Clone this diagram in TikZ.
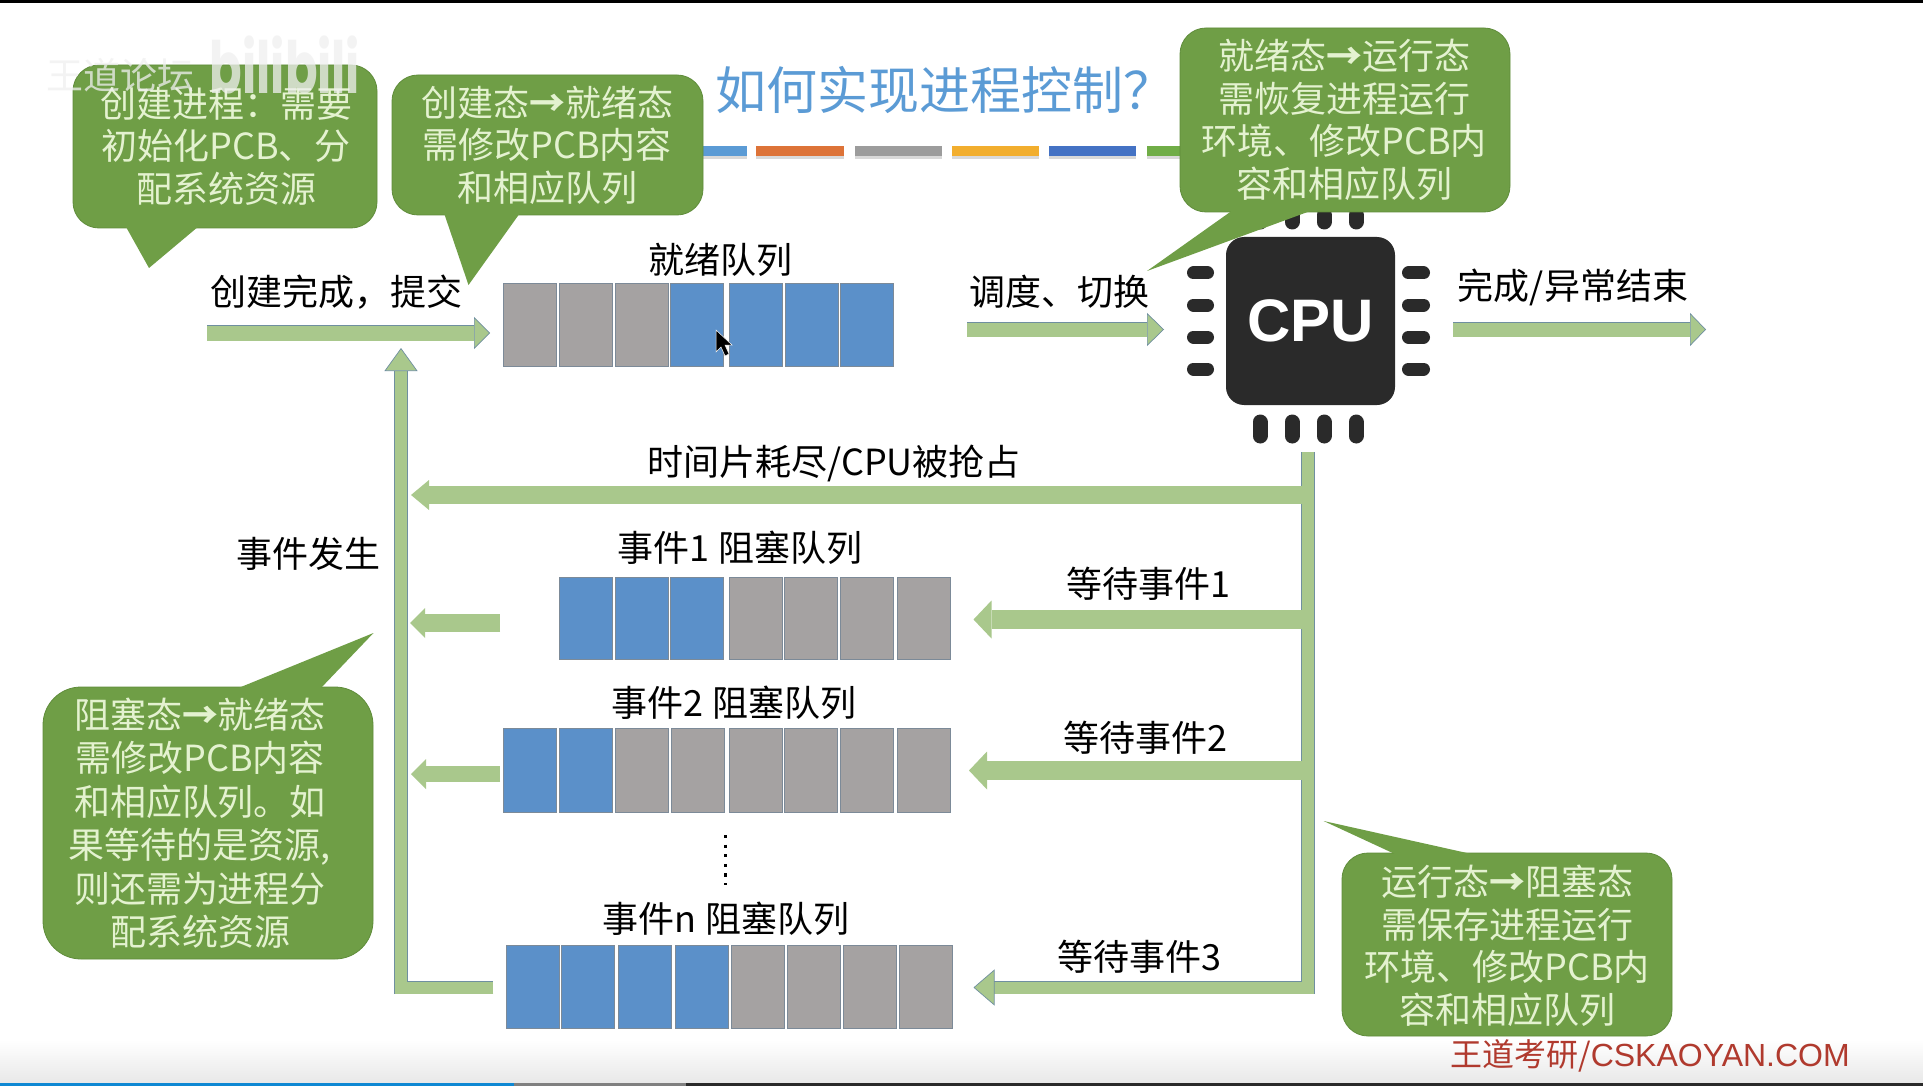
\documentclass[tikz,border=0pt]{standalone}
\usepackage{fontspec}
\setmainfont{Noto Sans CJK SC}
\newfontfamily\cpufont{Liberation Sans}
\newfontfamily\logofont{Poppins}
\usetikzlibrary{arrows.meta}
\definecolor{flowfill}{HTML}{A9C88C}
\definecolor{flowedge}{HTML}{6F8FA0}
\definecolor{bubblefill}{HTML}{6F9E46}
\definecolor{bubbleedge}{HTML}{5F8C3A}
\definecolor{bubbletxt}{HTML}{E4F2D0}
\definecolor{cellgray}{HTML}{A5A2A2}
\definecolor{cellblue}{HTML}{5B90C9}
\definecolor{celledge}{HTML}{7C8A98}
\definecolor{chipdark}{HTML}{2A2A2A}
\definecolor{titleblue}{HTML}{5B9BD5}
\definecolor{footred}{HTML}{B03A2E}
\definecolor{barblue}{HTML}{5B9BD5}
\definecolor{barorange}{HTML}{DD7338}
\definecolor{bargray}{HTML}{9C9C9C}
\definecolor{baryellow}{HTML}{F2AE2E}
\definecolor{barnavy}{HTML}{4472C4}
\definecolor{bargreen}{HTML}{70AD47}
\tikzset{
	flow/.style n args={3}{draw=flowedge,double=flowfill,line width=.7pt,double distance=#1,line join=miter,-{Triangle[length=#2,width=#3,fill=flowfill,color=flowedge,line width=.7pt]}},
	plainflow/.style n args={3}{draw=flowfill,line width=#1,-{Triangle[length=#2,width=#3,fill=flowfill,color=flowfill,line width=0pt]}},
	cell/.style={draw=celledge,line width=.6pt,minimum width=53pt,minimum height=#1,inner sep=0pt},
	bubble/.style={fill=bubblefill,draw=bubbleedge,line width=.8pt,rounded corners=26pt,inner sep=0pt},
	bubbletext/.style={text=bubbletxt,align=center,inner sep=0pt,font=\fontsize{36}{42.5}\selectfont},
	tail/.style={fill=bubblefill},
	lbl/.style={text=black,inner sep=0pt,font=\fontsize{36}{42}\selectfont},
	cpupin/.style={draw=chipdark,line cap=round,line width=#1},
}
\newcommand{\toarrow}{{\bfseries →}}
\newcommand{\widecomma}{\char"FF0C\relax}
\newcommand{\widecolon}{\char"FF1A\relax}
\newcommand{\widequery}{\char"FF1F\relax}
\begin{document}
\begin{tikzpicture}[x=1pt,y=-1pt]
	\useasboundingbox (0,0) rectangle (1923,1086);
	\fill[white] (0,0) rectangle (1923,1086);
	\shade[top color=white,bottom color=black!9] (0,1040) rectangle (1923,1083);
	\fill[black] (0,0) rectangle (1923,3);
	\fill[chipdark] (0,1083) rectangle (1923,1086);
	\fill[gray] (514,1083) rectangle (686,1086);
	\fill[cyan!70!blue] (0,1083) rectangle (514,1086);

	\node[text=titleblue,inner sep=0pt,font=\fontsize{51}{60}\selectfont] (title) at (945,90) {如何实现进程控制\widequery};
	\foreach \xa/\xb/\c in {660/747/barblue,756/844/barorange,855/942/bargray,952/1039/baryellow,1049/1136/barnavy,1147/1200/bargreen}{
		\fill[black!15] (\xa,149) rectangle (\xb,159);
		\fill[\c] (\xa,146) rectangle (\xb,156);
	}

	\foreach \x/\c [count=\i] in {530/cellgray,585.5/cellgray,642/cellgray,697/cellblue,755.5/cellblue,811.5/cellblue,867/cellblue}
	\node[cell=83pt,fill=\c] (ready\i) at (\x,324.5) {};
	\foreach \x/\c [count=\i] in {585.5/cellblue,641.5/cellblue,697/cellblue,755.5/cellgray,811/cellgray,866.5/cellgray,923.5/cellgray}
	\node[cell=82pt,fill=\c] (evta\i) at (\x,618) {};
	\foreach \x/\c [count=\i] in {530/cellblue,585.5/cellblue,642/cellgray,697.5/cellgray,755.5/cellgray,811/cellgray,866.5/cellgray,923.5/cellgray}
	\node[cell=84pt,fill=\c] (evtb\i) at (\x,770) {};
	\foreach \x/\c [count=\i] in {532.5/cellblue,588/cellblue,644.5/cellblue,701.5/cellblue,757.5/cellgray,813.5/cellgray,870/cellgray,926/cellgray}
	\node[cell=83pt,fill=\c] (evtn\i) at (\x,986.5) {};
	\fill[black,draw=white,line width=.5pt] (716,330) -- (716,352) -- (721,347) -- (725,356) -- (729,354) -- (725,345) -- (732,345) -- cycle;

	\node[lbl] (readylbl) at (720,260) {就绪队列};
	\node[lbl] (createlbl) at (336,292) {创建完成\widecomma 提交};
	\node[lbl] (schedlbl) at (1059,292) {调度、切换};
	\node[lbl] (finishlbl) at (1573,287) {完成/异常结束};
	\node[lbl] (slicelbl) at (834,463) {时间片耗尽/CPU被抢占};
	\node[lbl] (occurlbl) at (308,554) {事件发生};
	\node[lbl] (evtalbl) at (740,548) {事件1 阻塞队列};
	\node[lbl] (evtblbl) at (734,703) {事件2 阻塞队列};
	\node[lbl] (evtnlbl) at (726,919) {事件n 阻塞队列};
	\node[lbl] (waitalbl) at (1148,584) {等待事件1};
	\node[lbl] (waitblbl) at (1145.5,738) {等待事件2};
	\node[lbl] (waitnlbl) at (1139,957) {等待事件3};
	\coordinate (dotstop) at (725.6,835);
	\coordinate (dotsbot) at (725.6,885);
	\draw[line width=3.2pt,dash pattern=on 3.2pt off 6.4pt] (dotstop) -- (dotsbot);

	\coordinate (newstart) at (207,333);
	\coordinate (newend) at (490,333);
	\coordinate (schedstart) at (967,329.5);
	\coordinate (schedend) at (1164,329.5);
	\coordinate (endstart) at (1453,329.5);
	\coordinate (endend) at (1706,329.5);
	\coordinate (trunktop) at (1308,452);
	\coordinate (trunkbot) at (1308,987.5);
	\coordinate (waitnend) at (973.5,987.5);
	\coordinate (wakebot) at (493,987.5);
	\coordinate (wakecorner) at (401,987.5);
	\coordinate (waketop) at (401,348);
	\draw[flow={15pt}{16pt}{32pt}] (newstart) -- (newend);
	\draw[flow={14pt}{17pt}{33pt}] (schedstart) -- (schedend);
	\draw[flow={14pt}{16pt}{33pt}] (endstart) -- (endend);
	\draw[flow={12pt}{23pt}{33pt}] (wakebot) -- (wakecorner) -- (waketop);
	\draw[flow={12pt}{21pt}{36pt}] (trunktop) -- (trunkbot) -- (waitnend);
	\draw[plainflow={18pt}{18pt}{30pt}] (1303,495) -- (411,495);
	\draw[plainflow={19pt}{18pt}{38pt}] (1303,619.5) -- (973.5,619.5);
	\draw[plainflow={19pt}{18pt}{38pt}] (1303,770.5) -- (969,770.5);
	\draw[plainflow={18pt}{15pt}{30pt}] (500,623) -- (410,623);
	\draw[plainflow={16pt}{15pt}{30pt}] (500,774) -- (411,774);

	\foreach \x in {1260,1292,1324,1356}{
		\draw[cpupin=15pt] (\x,215) -- (\x,222);
		\draw[cpupin=15pt] (\x,422) -- (\x,436);
	}
	\foreach \y in {273,305,337,369}{
		\draw[cpupin=13pt] (1193.5,\y) -- (1207.5,\y);
		\draw[cpupin=13pt] (1408.5,\y) -- (1423.5,\y);
	}
	\node[fill=chipdark,rounded corners=18pt,minimum width=169pt,minimum height=168pt,inner sep=0pt,text=white,font=\cpufont\bfseries\fontsize{60}{60}\selectfont] (cpu) at (1310.5,321) {CPU};

	\node[bubble,minimum width=304pt,minimum height=163pt] (createbody) at (225,146.5) {};
	\fill[tail] (125.5,226) -- (149,268) -- (199,226) -- cycle;
	\node[bubbletext] (createtext) at (226,146) {创建进程\widecolon 需要\\初始化PCB、分\\配系统资源};

	\node[bubble,minimum width=311pt,minimum height=140pt] (readybody) at (547.5,145) {};
	\fill[tail] (444,213) -- (468.5,285) -- (520,213) -- cycle;
	\node[bubbletext] (readytext) at (547,145) {创建态\toarrow 就绪态\\需修改PCB内容\\和相应队列};

	\node[bubble,minimum width=330pt,minimum height=184pt] (runbody) at (1345,120) {};
	\fill[tail] (1233,210) -- (1147,271) -- (1313,210) -- cycle;
	\node[bubbletext] (runtext) at (1344,120) {就绪态\toarrow 运行态\\需恢复进程运行\\环境、修改PCB内\\容和相应队列};

	\node[bubble,rounded corners=38pt,minimum width=330pt,minimum height=272pt] (blockbody) at (208,823) {};
	\fill[tail] (236,689) -- (373.5,633) -- (320,689) -- cycle;
	\node[bubbletext,font=\fontsize{36}{43.5}\selectfont] (blocktext) at (200,823) {阻塞态\toarrow 就绪态\\需修改PCB内容\\和相应队列。如\\果等待的是资源,\\则还需为进程分\\配系统资源};

	\node[bubble,minimum width=330pt,minimum height=183pt] (waitbody) at (1507,944.5) {};
	\fill[tail] (1397,855) -- (1323.6,821) -- (1476,855) -- cycle;
	\node[bubbletext] (waittext) at (1507,946) {运行态\toarrow 阻塞态\\需保存进程运行\\环境、修改PCB内\\容和相应队列};

	\node[text=footred,inner sep=0pt,font=\fontsize{32}{36}\selectfont] (footer) at (1650,1056) {王道考研/{\cpufont CSKAOYAN.COM}};
	\node[text=black!6,opacity=.75,inner sep=0pt,font=\fontsize{37}{40}\selectfont] (markcn) at (120,75) {王道论坛};
	\node[text=black!6,opacity=.75,inner sep=0pt,yscale=1.5,font=\logofont\bfseries\fontsize{48}{48}\selectfont] (marklogo) at (285,65) {bilibili};
\end{tikzpicture}
\end{document}
